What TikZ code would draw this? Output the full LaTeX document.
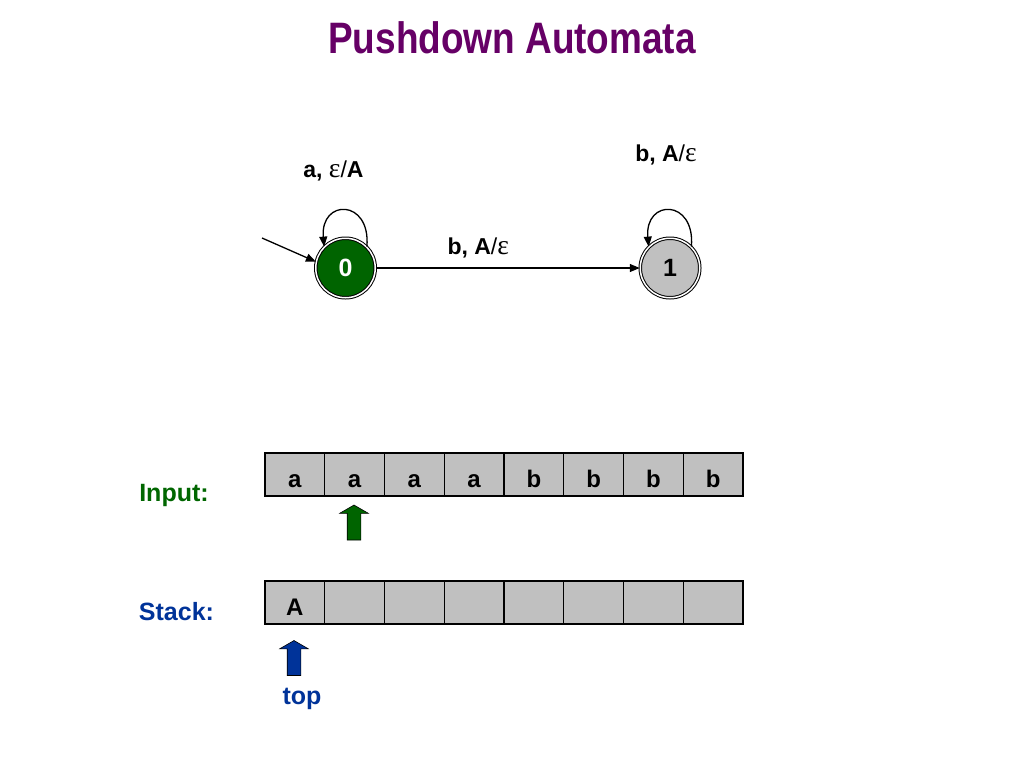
\documentclass[tikz,border=0pt]{standalone}
\usepackage{fontspec}
\setmainfont{Liberation Sans}
\newfontfamily\titlefont[FakeStretch=0.84]{Liberation Sans}
\newfontfamily\greekfont{Liberation Serif}
\usetikzlibrary{shapes.arrows,arrows.meta,positioning}
\definecolor{titlepurple}{RGB}{102,0,102}
\definecolor{stategreen}{RGB}{0,100,0}
\definecolor{inputgreen}{RGB}{0,102,0}
\definecolor{stackblue}{RGB}{0,51,153}
\definecolor{cellgray}{RGB}{192,192,192}
\newcommand{\eps}{{\greekfont\mdseries\scalebox{1.2}{ε}}}
\newcommand{\slsh}{{\mdseries/}}
\tikzset{
    % states and transitions
    pdastate/.style={
        circle, draw=black, line width=1pt, double=white, double distance=1.5pt,
        minimum size=59.5pt, inner sep=0pt,
        font=\fontsize{25}{25}\selectfont\bfseries
    },
    startstate/.style={pdastate, fill=stategreen, text=white},
    otherstate/.style={pdastate, fill=cellgray},
    arrow/.style={
        -{Triangle[length=10pt,width=8pt]}, line width=1.3pt, color=black
    },
    translabel/.style={
        font=\fontsize{23}{23}\selectfont\bfseries, inner sep=0pt, anchor=base
    },
    % tapes
    cell/.style={
        rectangle, draw=black, line width=1.3pt, fill=cellgray,
        minimum width=59.75pt, minimum height=43pt, inner sep=0pt,
        text height=25pt, text depth=0pt,
        font=\fontsize{24}{24}\selectfont\bfseries
    },
    tapelabel/.style={
        font=\fontsize{25}{25}\selectfont\bfseries, inner sep=0pt, anchor=base
    },
    headarrow/.style={
        single arrow, draw=black, line width=0.6pt, shape border rotate=90,
        minimum height=35pt, inner sep=6.5pt, single arrow head extend=7.5pt,
        single arrow tip angle=120
    }
}
\begin{document}
\begin{tikzpicture}[x=1pt, y=-1pt]
\useasboundingbox (0,0) rectangle (1024,768);
\fill[white] (0,0) rectangle (1024,768);

\node[anchor=base, text=titlepurple, font=\titlefont\fontsize{44}{44}\selectfont\bfseries] (title) at (512,53) {Pushdown Automata};

% automaton
\node[startstate] (s0) at (345.5,268) {0};
\node[otherstate] (s1) at (670,268) {1};
\coordinate (init) at (262,238);

\draw[arrow] (init) -- (s0.168);
\draw[arrow] (s0.45) .. controls +(4,-48) and +(-4,-48) .. node[translabel, pos=0.5, yshift=33pt, xshift=-12pt] {a, \eps\slsh A} (s0.135);
\draw[arrow] (s1.45) .. controls +(4,-48) and +(-4,-48) .. node[translabel, pos=0.5, yshift=49pt, xshift=-4pt] {b, A\slsh\eps} (s1.135);
\draw[arrow] (s0) -- node[translabel, pos=0.5, yshift=14pt, xshift=-29.5pt] {b, A\slsh\eps} (s1);

% input tape
\foreach \c [count=\i] in {a,a,a,a,b,b,b,b}
    \node[cell] (in\i) at ({265+59.75*(\i-0.5)},474.5) {\c};
% stack
\foreach \c [count=\i] in {A,{},{},{},{},{},{},{}}
    \node[cell] (st\i) at ({265+59.75*(\i-0.5)},602.5) {\c};

\node[tapelabel, text=inputgreen] (inlabel) at (174,501) {Input:};
\node[tapelabel, text=stackblue] (stlabel) at (176.5,620) {Stack:};

\node[headarrow, fill=stategreen] (inhead) at (354,524.5) {};
\node[headarrow, fill=stackblue] (sthead) at (294,660) {};
\node[tapelabel, text=stackblue] (toplabel) at (302,704) {top};

\end{tikzpicture}
\end{document}
